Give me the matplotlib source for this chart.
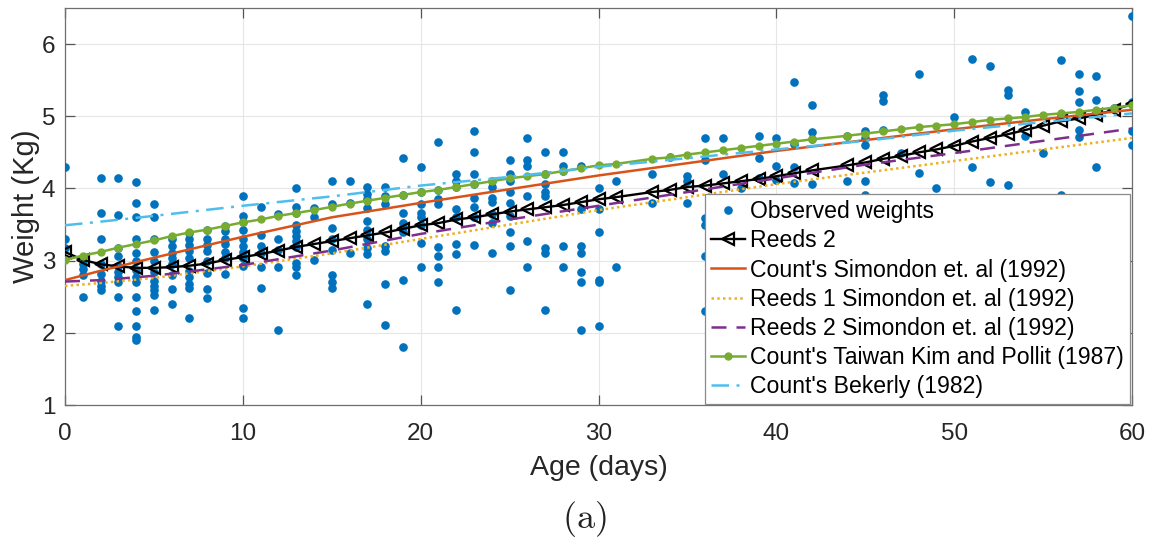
import matplotlib
matplotlib.use("Agg")
import matplotlib.pyplot as plt
import numpy as np

# ---------------- data ----------------
obs_days = [0, 1, 2, 3, 4, 5, 6, 7, 8, 9, 10, 11, 12, 13, 14, 15, 16, 17, 18, 19,
            20, 21, 22, 23, 24, 25, 26, 27, 28, 29, 30, 31, 33, 34, 35, 36, 37, 38, 39, 40,
            41, 42, 44, 45, 46, 47, 48, 49, 50, 51, 52, 53, 54, 55, 56, 57, 58, 59, 60]
obs_weights_by_day = [
    [4.30, 3.30, 3.18],
    [3.05, 2.95, 2.88, 2.80, 2.50],
    [4.15, 3.66, 3.30, 2.95, 2.81, 2.72, 2.65, 2.60],
    [4.15, 3.63, 3.18, 3.07, 2.93, 2.84, 2.77, 2.70, 2.50, 2.10],
    [4.09, 3.80, 3.60, 3.30, 3.10, 3.00, 2.87, 2.78, 2.70, 2.50, 2.30, 2.10, 1.94, 1.90],
    [3.78, 3.60, 3.30, 3.12, 3.00, 2.84, 2.72, 2.65, 2.59, 2.52, 2.31],
    [3.30, 3.20, 3.11, 3.04, 2.96, 2.80, 2.61, 2.40],
    [3.38, 3.30, 3.22, 3.13, 3.04, 2.86, 2.78, 2.68, 2.62, 2.21],
    [3.43, 3.30, 3.22, 3.13, 3.00, 2.83, 2.61, 2.48],
    [3.48, 3.41, 3.30, 3.23, 3.12, 3.04, 2.81],
    [3.90, 3.62, 3.53, 3.43, 3.30, 3.20, 3.12, 3.04, 2.93, 2.35, 2.21],
    [3.75, 3.35, 3.20, 3.11, 2.91, 2.62],
    [3.65, 3.30, 3.15, 2.91, 2.04],
    [4.00, 3.75, 3.66, 3.50, 3.41, 3.34, 3.27, 3.19, 2.97, 2.91, 2.80],
    [3.73, 3.60, 3.01],
    [4.10, 3.78, 3.45, 3.30, 3.15, 2.80, 2.70, 2.62],
    [4.10, 3.80, 3.10],
    [4.02, 3.93, 3.85, 3.73, 3.55, 3.42, 3.30, 3.18, 3.09, 2.40],
    [4.02, 3.90, 3.78, 3.20, 3.13, 2.68, 2.11],
    [4.42, 3.91, 3.66, 3.52, 3.46, 3.40, 2.73, 1.81],
    [4.30, 3.95, 3.79, 3.66, 3.61, 3.49, 3.25, 2.91],
    [4.65, 3.98, 3.85, 3.79, 3.19, 3.07, 2.91, 2.70],
    [4.20, 4.10, 4.02, 3.72, 3.60, 3.23, 3.09, 2.32],
    [4.80, 4.50, 4.20, 4.06, 3.87, 3.74, 3.60, 3.22],
    [4.11, 4.02, 3.87, 3.81, 3.64, 3.52, 3.10],
    [4.40, 4.20, 4.10, 3.95, 3.80, 3.62, 3.40, 3.20, 2.60],
    [4.70, 4.40, 4.31, 3.89, 3.27, 2.91],
    [4.50, 4.20, 4.06, 3.95, 3.89, 3.18, 3.11, 2.31],
    [4.50, 4.31, 4.24, 3.20, 2.91],
    [4.31, 3.71, 3.20, 3.10, 2.84, 2.70, 2.04],
    [4.00, 3.71, 3.40, 2.73, 2.70, 2.10],
    [4.10, 2.91],
    [4.20, 3.80],
    [4.43],
    [4.17, 4.10, 3.80],
    [4.70, 4.40, 3.59, 3.50, 3.07, 2.30],
    [4.70, 4.20],
    [4.00],
    [4.72, 4.42, 4.14],
    [4.70, 4.31, 4.12],
    [5.48, 4.62, 4.30, 4.08],
    [5.15, 4.78, 4.68, 4.06],
    [4.72, 4.10],
    [4.79, 4.70, 4.60, 4.10, 3.91],
    [5.30, 5.21, 4.81],
    [4.49],
    [5.59, 4.21],
    [4.01],
    [4.99],
    [5.80, 4.30],
    [5.70, 4.09],
    [5.36, 5.29, 4.05],
    [5.06, 4.72],
    [4.49],
    [5.78, 5.02, 3.91],
    [5.59, 5.35, 5.20, 4.81, 4.71],
    [5.56, 5.22, 4.30],
    [5.12],
    [6.39, 5.20, 4.80, 4.60],
]

# model evaluated at observation days (markers)
reeds2_fit = [3.12, 3.01, 2.95, 2.92, 2.90, 2.90, 2.91, 2.93, 2.96, 3.01,
              3.05, 3.09, 3.14, 3.19, 3.23, 3.27, 3.31, 3.35, 3.39, 3.44,
              3.49, 3.52, 3.57, 3.60, 3.64, 3.68, 3.71, 3.74, 3.77, 3.81,
              3.85, 3.88, 3.95, 3.98, 4.02, 4.04, 4.07, 4.10, 4.13, 4.17,
              4.21, 4.25, 4.32, 4.36, 4.41, 4.45, 4.50, 4.54, 4.59, 4.65,
              4.70, 4.75, 4.81, 4.87, 4.93, 4.97, 5.02, 5.09, 5.17]
kim_pollit = [3.01, 3.07, 3.12, 3.18, 3.23, 3.28, 3.34, 3.39, 3.43, 3.48,
              3.53, 3.57, 3.62, 3.66, 3.70, 3.745, 3.79, 3.83, 3.87, 3.91,
              3.95, 3.98, 4.02, 4.06, 4.10, 4.14, 4.17, 4.20, 4.24, 4.28,
              4.32, 4.34, 4.41, 4.43, 4.47, 4.50, 4.53, 4.56, 4.59, 4.62,
              4.65, 4.68, 4.73, 4.76, 4.79, 4.82, 4.85, 4.87, 4.89, 4.92,
              4.95, 4.97, 4.99, 5.02, 5.04, 5.06, 5.09, 5.12, 5.15]

# reference curves (no markers)
curve_days = [0, 2, 5, 10, 15, 20, 25, 30, 35, 40, 45, 50, 55, 60]
counts_simondon = [2.73, 2.86, 3.04, 3.33, 3.60, 3.80, 3.99, 4.18, 4.35, 4.52, 4.67, 4.82, 4.96, 5.09]
reeds1_simondon = [2.65, 2.69, 2.76, 2.92, 3.10, 3.30, 3.50, 3.70, 3.88, 4.06, 4.22, 4.38, 4.54, 4.70]
reeds2_simondon = [2.71, 2.73, 2.79, 2.94, 3.14, 3.37, 3.57, 3.76, 3.95, 4.14, 4.33, 4.49, 4.66, 4.83]
counts_bekerly = [3.49, 3.54, 3.62, 3.76, 3.89, 4.04, 4.16, 4.30, 4.42, 4.54, 4.66, 4.80, 4.92, 5.04]

labels = ["Observed weights", "Reeds 2", "Count's Simondon et. al (1992)",
          "Reeds 1 Simondon et. al (1992)", "Reeds 2 Simondon et. al (1992)",
          "Count's Taiwan Kim and Pollit (1987)", "Count's Bekerly (1982)"]

# ---------------- plot ----------------
plt.rcParams['font.family'] = ['Liberation Sans', 'DejaVu Sans']
plt.rcParams['mathtext.fontset'] = 'cm'

fig = plt.figure(figsize=(11.6, 5.44), dpi=100)
ax = fig.add_axes([65 / 1160, 1 - 405 / 544, (1132 - 65) / 1160, (405 - 8) / 544])

sx = [d for d, ws in zip(obs_days, obs_weights_by_day) for _ in ws]
sy = [w for ws in obs_weights_by_day for w in ws]

ax.plot(sx, sy, linestyle='none', marker='o', markersize=5.2,
        color='#0072BD', label=labels[0], zorder=3)
ax.plot(obs_days, reeds2_fit, color='black', linewidth=1.7, marker='<',
        markersize=9, markerfacecolor='none', markeredgewidth=1.6,
        label=labels[1], zorder=4)
ax.plot(curve_days, counts_simondon, color='#D95319', linewidth=1.8,
        label=labels[2], zorder=4)
ax.plot(curve_days, reeds1_simondon, color='#EDB120', linewidth=1.8,
        linestyle=(0, (1, 1.3)), label=labels[3], zorder=4)
ax.plot(curve_days, reeds2_simondon, color='#7E2F8E', linewidth=1.8,
        linestyle=(0, (6, 4)), label=labels[4], zorder=4)
ax.plot(obs_days, kim_pollit, color='#77AC30', linewidth=1.8, marker='o',
        markersize=5, label=labels[5], zorder=4)
ax.plot(curve_days, counts_bekerly, color='#4DBEEE', linewidth=1.8,
        linestyle=(0, (7, 3, 1.2, 3)), label=labels[6], zorder=4)

ax.set_xlim(0, 60)
ax.set_ylim(1, 6.5)
ax.set_xticks(np.arange(0, 61, 10))
ax.set_yticks(np.arange(1, 7, 1))
ax.grid(True, color='#e6e6e6', linewidth=0.8, zorder=0)
ax.set_axisbelow(True)

for sp in ax.spines.values():
    sp.set_color('#6e6e6e')
    sp.set_linewidth(0.9)
ax.tick_params(direction='in', length=7, width=0.9, color='#555555',
               labelsize=17.5, labelcolor='#262626', top=True, right=True)
ax.tick_params(axis='x', pad=13)
ax.tick_params(axis='y', pad=7)

ax.set_xlabel('Age (days)', fontsize=20.5, color='#262626', labelpad=7)
ax.set_ylabel('Weight (Kg)', fontsize=21, color='#262626', labelpad=1)

leg = ax.legend(loc='lower right', bbox_to_anchor=(0.998, 0.002), borderaxespad=0,
                fontsize=16.6, frameon=True, fancybox=False, framealpha=1,
                edgecolor='#8a8a8a', handlelength=1.5, handletextpad=0.22,
                labelspacing=0.27, borderpad=0.25, markerscale=1.0)
leg.get_frame().set_linewidth(0.9)

fig.text(584 / 1160, 1 - 519 / 544, r'$\mathrm{(a)}$', fontsize=26,
         ha='center', va='center', color='#222222')

fig.savefig('out.png', dpi=100)
